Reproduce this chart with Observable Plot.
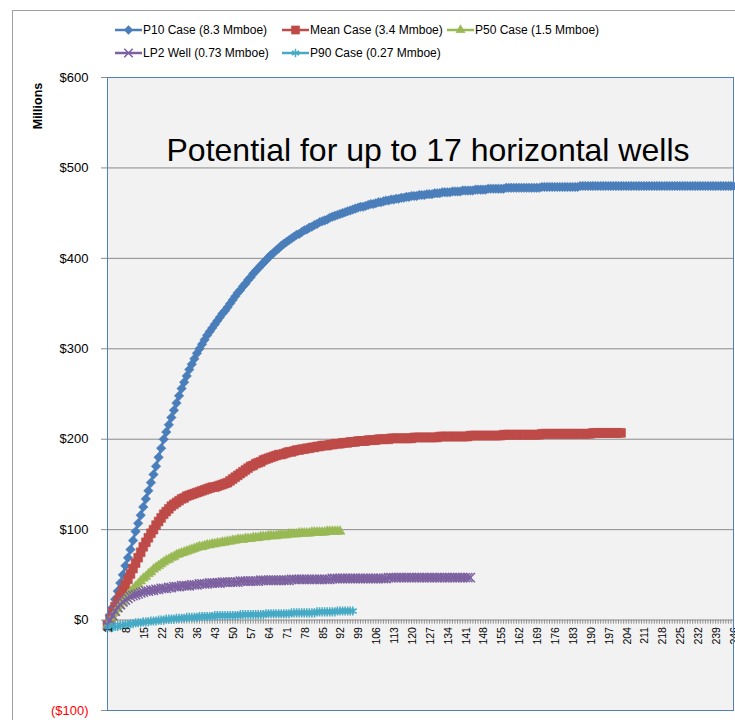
<!DOCTYPE html>
<html><head><meta charset="utf-8">
<script src="https://cdn.jsdelivr.net/npm/d3@7"></script>
<script src="https://cdn.jsdelivr.net/npm/@observablehq/plot@0.6"></script>
<style>
body{margin:0;background:#fff;font-family:"Liberation Sans",Arial,sans-serif;}
#wrap{position:relative;width:735px;height:720px;overflow:hidden;background:#fff;}
#border{position:absolute;left:12px;top:10px;width:800px;height:800px;border-left:1px solid #a0a0a0;border-top:1px solid #a0a0a0;}
#legend{position:absolute;left:115px;top:19px;display:grid;grid-template-columns:167px 165px auto;grid-auto-rows:22.5px;}
.item{display:flex;align-items:center;font-size:12px;white-space:nowrap;color:#000;}
.item svg{margin-right:1px;flex:none;}
#chart{position:absolute;left:0;top:70px;}
#ylab{position:absolute;left:38px;top:106px;transform:translate(-50%,-50%) rotate(-90deg);font-weight:bold;font-size:12.5px;white-space:nowrap;}
#title{position:absolute;left:428px;top:134px;transform:translateX(-50%);font-size:32px;line-height:32px;white-space:nowrap;color:#000;}
</style>
</head><body>
<div id="wrap">
  <div id="border"></div>
  <div id="legend"></div>
  <div id="chart"></div>
  <div id="ylab">Millions</div>
  <div id="title">Potential for up to 17 horizontal wells</div>
</div>
<script>
// ---- data (Millions $, by category 1..N) ----
const p10 = [
-4,5,14,23,32,41,50,60,69,78,
88,98,107,116,125,134,143,152,161,170,
180,190,200,208,216,224,232,240,248,256,
263,270,277,283,289,295,300,305,310,315,
319,323,327,331,335,339,342,346,350,354,
358,362,365,369,372,376,379,383,386,389,
392,395,398,401,404,406,409,411,414,416,
418,420,422,424,426,427,429,431,432,434,
435,437,438,440,441,442,443,445,446,447,
448,449,450,451,452,453,454,455,456,457,
457,458,459,460,460,461,462,462,463,464,
464,465,465,466,466,467,467,468,468,469,
469,469,470,470,470,471,471,471,472,472,
472,473,473,473,473,474,474,474,474,475,
475,475,475,475,476,476,476,476,476,477,
477,477,477,477,477,477,478,478,478,478,
478,478,478,478,478,478,478,478,478,478,
479,479,479,479,479,479,479,479,479,479,
479,479,479,479,479,480,480,480,480,480,
480,480,480,480,480,480,480,480,480,480,
480,480,480,480,480,480,480,480,480,480,
480,480,480,480,480,480,480,480,480,480,
480,480,480,480,480,480,480,480,480,480,
480,480,480,480,480,480,480,480,480,480,
480,480,480,480,480,480];
const meanCase = [
-5,2,9,15,21,27,33,39,45,51,
57,63,69,75,81,86,91,96,100,105,
109,113,117,120,123,126,128,130,132,134,
135,137,138,139,140,141,142,143,144,145,
146,147,147,148,149,150,151,152,154,156,
158,160,162,164,166,168,170,171,173,174,
175,177,178,179,180,181,182,183,183,184,
185,186,186,187,188,188,189,189,190,190,
191,191,192,192,193,193,193,194,194,195,
195,195,196,196,196,197,197,197,198,198,
198,198,199,199,199,199,200,200,200,200,
200,201,201,201,201,201,201,201,201,201,
202,202,202,202,202,202,202,202,202,202,
203,203,203,203,203,203,203,203,203,203,
203,203,204,204,204,204,204,204,204,204,
204,204,204,204,204,205,205,205,205,205,
205,205,205,205,205,205,205,205,205,205,
206,206,206,206,206,206,206,206,206,206,
206,206,206,206,206,206,206,206,206,206,
207,207,207,207,207,207,207,207,207,207,
207,207];
const p50 = [
-6,-2,3,8,12,16,20,24,27,31,
34,37,40,43,46,48,51,53,56,58,
60,62,64,66,67,69,70,72,73,74,
75,76,77,78,79,80,81,81,82,83,
83,84,84,85,85,86,86,87,87,88,
88,89,89,89,90,90,90,91,91,91,
92,92,92,93,93,93,93,94,94,94,
94,95,95,95,95,96,96,96,96,96,
97,97,97,97,97,97,98,98,98,98,
98,98];
const lp2 = [
-6,0,5,10,14,17,20,22,24,26,
27,28,29,30,31,32,32,33,33,34,
34,35,35,35,36,36,37,37,37,38,
38,38,38,39,39,39,40,40,40,40,
41,41,41,41,41,42,42,42,42,42,
42,42,43,43,43,43,43,43,43,43,
44,44,44,44,44,44,44,44,44,44,
44,44,45,45,45,45,45,45,45,45,
45,45,45,45,45,45,45,45,46,46,
46,46,46,46,46,46,46,46,46,46,
46,46,46,46,46,46,46,46,46,46,
47,47,47,47,47,47,47,47,47,47,
47,47,47,47,47,47,47,47,47,47,
47,47,47,47,47,47,47,47,47,47,
47,47,47];
const p90 = [
-9,-8,-8,-7,-7,-6,-6,-5,-5,-4,
-4,-3,-3,-3,-2,-2,-2,-1,-1,-1,
0,0,0,1,1,1,1,2,2,2,
2,3,3,3,3,3,4,4,4,4,
4,4,5,5,5,5,5,5,5,5,
5,5,6,6,6,6,6,6,6,6,
6,6,7,7,7,7,7,7,7,7,
7,7,8,8,8,8,8,8,8,8,
8,8,9,9,9,9,9,9,9,9,
10,10,10,10,10,10,10];
const seriesNames = ["P10 Case (8.3 Mmboe)","Mean Case (3.4 Mmboe)","P50 Case (1.5 Mmboe)","LP2 Well (0.73 Mmboe)","P90 Case (0.27 Mmboe)"];
const xTickLabels = [1,8,15,22,29,36,43,50,57,64,71,78,85,92,99,106,113,120,127,134,141,148,155,162,169,176,183,190,197,204,211,218,225,232,239,246];
const yTicks = [-100,0,100,200,300,400,500,600];

// ---- styles ----
const styles = [
  {color:"#4A7EBB", symbol:"diamond2", r:4.3, filled:true},
  {color:"#BE4B48", symbol:"square", r:5, filled:true},
  {color:"#98B954", symbol:"triangle", r:3.7, filled:true},
  {color:"#7D60A0", symbol:"times", r:4.3, filled:false},
  {color:"#46AAC5", symbol:"asterisk", r:4.3, filled:false}
];
const allValues = [p10, meanCase, p50, lp2, p90];
const series = allValues.map((vals, k) => ({name: seriesNames[k], ...styles[k],
  rows: vals.map((v, i) => ({cat: i + 1, value: v}))}));
const categories = p10.map((v, i) => i + 1);

// ---- legend ----
const symMap = {diamond2: d3.symbolDiamond2, square: d3.symbolSquare, triangle: d3.symbolTriangle, times: d3.symbolTimes, asterisk: d3.symbolAsterisk};
const legend = document.getElementById("legend");
const order = [0,1,2,3,4];
const cells = [0,1,2,3,4,null];
series.forEach((s, k) => {
  const div = document.createElement("div");
  div.className = "item";
  const size = Math.PI * s.r * s.r * 0.85;
  const path = d3.symbol(symMap[s.symbol], size)();
  div.innerHTML = `<svg width="27" height="12"><line x1="0" x2="27" y1="6" y2="6" stroke="${s.color}" stroke-width="2.5"/>` +
    `<path transform="translate(13.5,6)" d="${path}" fill="${s.filled ? s.color : "none"}" stroke="${s.color}" stroke-width="${s.filled ? 0.5 : 1.5}"/></svg><span>${s.name}</span>`;
  legend.appendChild(div);
  if (k === 2) { /* third item ends first row */ }
});

// ---- chart ----
const marks = [
  Plot.frame({fill: "#F2F2F2", stroke: null}),
  Plot.gridY(yTicks.filter(d => d > -100 && d < 600), {stroke: "#8c8c8c", strokeOpacity: 1}),
  Plot.ruleX(categories, {x: d => d, y1: 0, y2: -4.5, stroke: "#8c8c8c", strokeWidth: 1})
];
series.forEach(s => {
  marks.push(Plot.line(s.rows, {x: "cat", y: "value", stroke: s.color, strokeWidth: 2.5}));
  marks.push(Plot.dot(s.rows, {x: "cat", y: "value", symbol: s.symbol, r: s.r,
    fill: s.filled ? s.color : "none", stroke: s.color, strokeWidth: s.filled ? 0.5 : 1.5}));
});
marks.push(
  Plot.text(xTickLabels, {x: d => d, y: 0, text: d => String(d), rotate: -90, textAnchor: "end", lineAnchor: "middle", dy: 7, dx: 1, fontSize: 10.5, fill: "#000"}),
  Plot.frame({stroke: "#4F81BD", strokeWidth: 1}),
  Plot.axisY(yTicks.filter(d => d >= 0), {tickSize: 6, tickPadding: 13, tickFormat: d => "$" + d, fontSize: 13, fill: "#000", stroke: "#8c8c8c", label: null}),
  Plot.axisY(yTicks.filter(d => d < 0), {tickSize: 6, tickPadding: 13, tickFormat: d => "($" + (-d) + ")", fontSize: 13, fill: "#FF0000", stroke: "#8c8c8c", label: null})
);

const svg = Plot.plot({
  width: 735, height: 650,
  marginTop: 7, marginBottom: 10, marginLeft: 107, marginRight: 2,
  x: {domain: [1, 246], axis: null},
  y: {domain: [-100, 600], axis: null},
  style: {background: "transparent", fontFamily: "Liberation Sans, Arial, sans-serif", overflow: "visible"},
  marks
});
document.getElementById("chart").appendChild(svg);
</script>
</body></html>
